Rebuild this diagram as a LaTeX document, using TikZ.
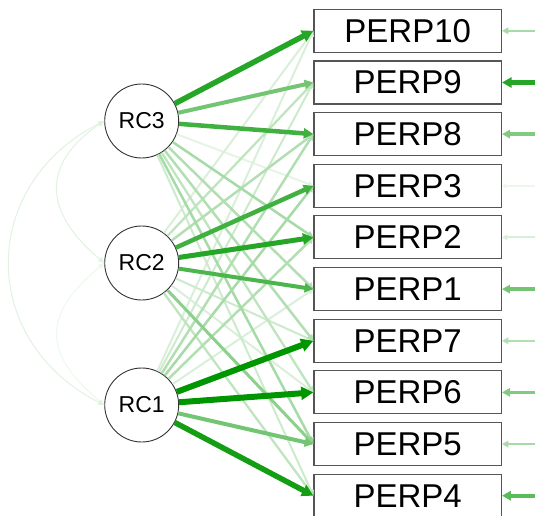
\documentclass[tikz,border=0pt]{standalone}
\usepackage{fontspec}
\setmainfont{Liberation Sans}
\usetikzlibrary{arrows.meta}
\definecolor{g}{RGB}{0,150,0}
\definecolor{bordergray}{RGB}{85,85,85}
\tikzset{
  lat/.style={circle, draw=black!80, line width=0.9pt, minimum size=74pt, inner sep=0pt, font=\fontsize{23}{23}\selectfont, fill=white},
  man/.style={rectangle, draw=bordergray, line width=1.1pt, minimum width=187.5pt, minimum height=43pt, inner sep=0pt, font=\fontsize{33}{33}\selectfont, fill=white},
  ld/.style n args={2}{draw=g!#1, line width=#2pt, -{Triangle[length=2pt 1.7, width=2pt 1.8]}, shorten <=0pt},
  cov/.style={draw=g!12, line width=1pt, {Triangle[length=6pt, width=5pt]}-{Triangle[length=6pt, width=5pt]}},
}
\begin{document}
\begin{tikzpicture}[x=1pt,y=1pt]
\useasboundingbox (0,0) rectangle (535,515);
% latent
\node[lat] (RC3) at (141.7,394) {RC3};
\node[lat] (RC2) at (141.7,252) {RC2};
\node[lat] (RC1) at (141.7,110) {RC1};
% manifest
\node[man] (P10) at (407.7,484.2) {PERP10};
\node[man] (P9) at (407.7,432.5) {PERP9};
\node[man] (P8) at (407.7,380.9) {PERP8};
\node[man] (P3) at (407.7,329.2) {PERP3};
\node[man] (P2) at (407.7,277.6) {PERP2};
\node[man] (P1) at (407.7,225.9) {PERP1};
\node[man] (P7) at (407.7,174.2) {PERP7};
\node[man] (P6) at (407.7,122.6) {PERP6};
\node[man] (P5) at (407.7,70.9) {PERP5};
\node[man] (P4) at (407.7,19.3) {PERP4};
% residual free ends
\coordinate (r10) at (535,484.2);
\coordinate (r9) at (535,432.5);
\coordinate (r8) at (535,380.9);
\coordinate (r3) at (535,329.2);
\coordinate (r2) at (535,277.6);
\coordinate (r1) at (535,225.9);
\coordinate (r7) at (535,174.2);
\coordinate (r6) at (535,122.6);
\coordinate (r5) at (535,70.9);
\coordinate (r4) at (535,19.3);
% covariances
\draw[cov, draw=g!7] (RC2.west) .. controls (42,200) and (42,162) .. (RC1.west);
\draw[cov] (RC3.west) .. controls (42,352) and (42,304) .. (RC2.west);
\draw[cov] (RC3.west) .. controls (-22,330) and (-22,174) .. (RC1.west);
% cross loadings (faint)
\begin{scope}[on background layer/.style={}]
\draw[ld={10}{2}] (RC3) -- (P3.west);
\draw[ld={15}{2}] (RC2) -- (P10.west);
\draw[ld={15}{2}] (RC1) -- (P10.west);
\draw[ld={15}{2}] (RC1) -- (P1.west);
\draw[ld={15}{2}] (RC2) -- (P6.west);
\draw[ld={20}{2}] (RC1) -- (P9.west);
\draw[ld={20}{2}] (RC2) -- (P7.west);
\draw[ld={20}{2}] (RC3) -- (P4.west);
\draw[ld={25}{2.3}] (RC2) -- (P9.west);
\draw[ld={25}{2.3}] (RC3) -- (P6.west);
\draw[ld={25}{2.3}] (RC2) -- (P4.west);
\draw[ld={30}{2.5}] (RC2) -- (P8.west);
\draw[ld={30}{2.5}] (RC1) -- (P8.west);
\draw[ld={30}{2.5}] (RC1) -- (P2.west);
\draw[ld={30}{2.5}] (RC3) -- (P1.west);
\draw[ld={30}{2.5}] (RC3) -- (P7.west);
\draw[ld={35}{2.5}] (RC3) -- (P2.west);
\draw[ld={35}{2.5}] (RC3) -- (P5.west);
\draw[ld={35}{2.5}] (RC1) -- (P3.west);
\draw[ld={45}{3}] (RC2) -- (P5.west);
\end{scope}
% main loadings
\draw[ld={55}{4}] (RC3) -- (P9.west);
\draw[ld={55}{4}] (RC1) -- (P5.west);
\draw[ld={70}{4}] (RC2) -- (P1.west);
\draw[ld={75}{4.5}] (RC3) -- (P8.west);
\draw[ld={75}{4.5}] (RC2) -- (P3.west);
\draw[ld={85}{5}] (RC2) -- (P2.west);
\draw[ld={85}{5.5}] (RC3) -- (P10.west);
\draw[ld={92}{5.5}] (RC1) -- (P4.west);
\draw[ld={100}{6}] (RC1) -- (P7.west);
\draw[ld={100}{6}] (RC1) -- (P6.west);
% residuals
\draw[ld={35}{2.5}] (r10) -- (P10.east);
\draw[ld={85}{4.5}] (r9) -- (P9.east);
\draw[ld={50}{3.5}] (r8) -- (P8.east);
\draw[ld={8}{1.5}] (r3) -- (P3.east);
\draw[ld={15}{2}] (r2) -- (P2.east);
\draw[ld={55}{3.5}] (r1) -- (P1.east);
\draw[ld={30}{2.5}] (r7) -- (P7.east);
\draw[ld={50}{3.5}] (r6) -- (P6.east);
\draw[ld={35}{2.5}] (r5) -- (P5.east);
\draw[ld={65}{4}] (r4) -- (P4.east);
\end{tikzpicture}
\end{document}
